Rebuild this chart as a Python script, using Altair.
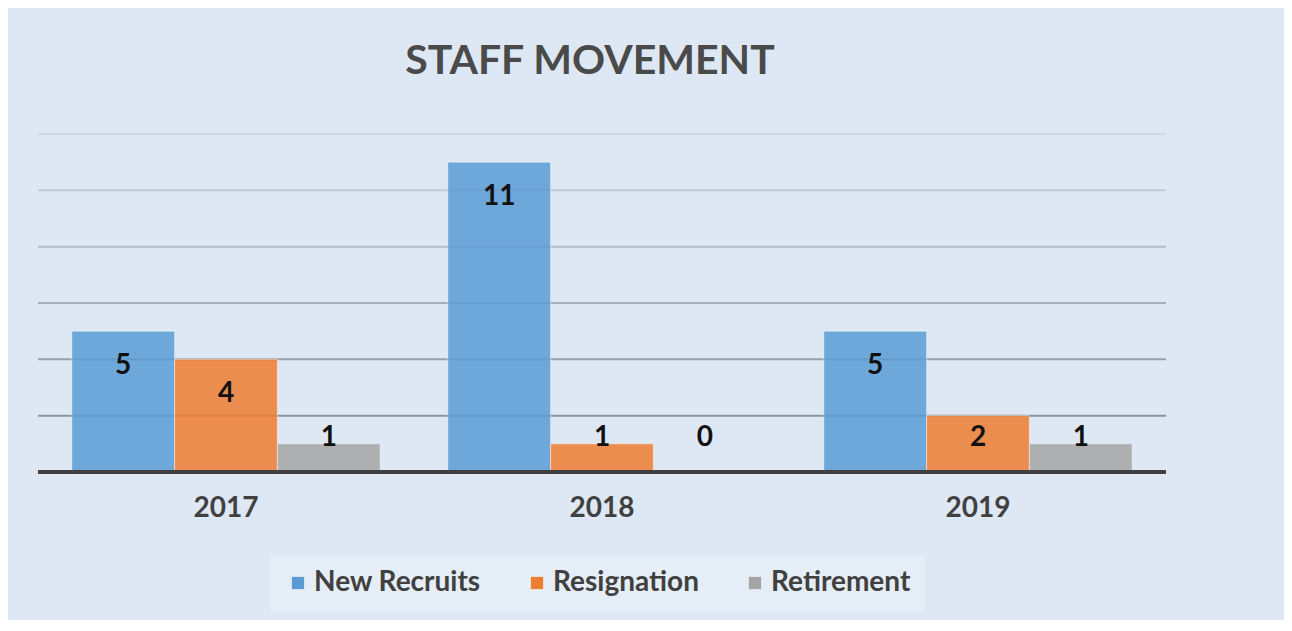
import altair as alt
import pandas as pd

years = ["2017", "2018", "2019"]
series = ["New Recruits", "Resignation", "Retirement"]
new_recruits = [5, 11, 5]
resignation = [4, 1, 2]
retirement = [1, 0, 1]
grid_values = [2, 4, 6, 8, 10, 12]

rows = []
for name, vals in zip(series, [new_recruits, resignation, retirement]):
    for y, v in zip(years, vals):
        rows.append({"year": y, "series": name, "value": v})
df = pd.DataFrame(rows)
grid_df = pd.DataFrame({"g": grid_values})

FONT = "Lato"
yscale = alt.Scale(domain=[0, 12], nice=False, zero=True)
xenc = alt.X("year:N", sort=years, scale=alt.Scale(paddingInner=0.18, paddingOuter=0.09),
             axis=alt.Axis(title=None, labelAngle=0, labelFont=FONT, labelFontSize=28,
                           labelFontWeight="bold", labelColor="#404040", ticks=False,
                           domain=False, labelPadding=22, grid=False))
xoff = alt.XOffset("series:N", sort=series, scale=alt.Scale(paddingInner=0, paddingOuter=0))

grid = alt.Chart(grid_df).mark_rule(strokeWidth=2).encode(
    y=alt.Y("g:Q", scale=yscale, axis=None),
    stroke=alt.Stroke("g:Q", scale=alt.Scale(domain=[2, 12], range=["#8896a1", "#d0d8df"]), legend=None),
)

bars = alt.Chart(df).mark_bar(fillOpacity=0.85, stroke="#ffffff", strokeOpacity=0.45, strokeWidth=1).encode(
    x=xenc,
    xOffset=xoff,
    y=alt.Y("value:Q", scale=yscale, axis=None),
    color=alt.Color("series:N", sort=series,
                    scale=alt.Scale(domain=series, range=["#5b9bd5", "#ed7d31", "#a5a5a5"]),
                    legend=alt.Legend(title=None, orient="none", direction="horizontal",
                                      legendX=232, legendY=421, fillColor="#e5edf6",
                                      padding=14, symbolType="square", symbolSize=150,
                                      symbolStrokeWidth=0, labelFont=FONT, labelFontSize=28,
                                      labelFontWeight="bold", labelColor="#404040",
                                      columnPadding=42, labelOffset=2, labelLimit=400)),
)

zero = alt.Chart(df).mark_rule(strokeWidth=3, color="#404040").encode(y=alt.datum(0))

labels = alt.Chart(df).transform_calculate(
    pos="max(datum.value - 1.24, 1.2)"
).mark_text(font=FONT, fontSize=28, fontWeight="bold", color="#111111", baseline="middle").encode(
    x=alt.X("year:N", sort=years),
    xOffset=xoff,
    y=alt.Y("pos:Q", scale=yscale),
    text=alt.Text("value:Q"),
)

chart = alt.layer(grid, bars, zero, labels).properties(
    width=1128, height=338,
    padding={"left": 30, "top": 126, "right": 118, "bottom": 148},
    autosize=alt.AutoSizeParams(type="none"),
    title=alt.TitleParams("STAFF MOVEMENT", font=FONT, fontSize=41, fontWeight="bold",
                          color="#4a4a4a", anchor="middle", dx=-12, offset=50),
).resolve_scale(stroke="independent").configure(background="#dee8f4").configure_view(stroke=None)

chart.save("out.html", embed_options={"renderer": "svg", "actions": False})
